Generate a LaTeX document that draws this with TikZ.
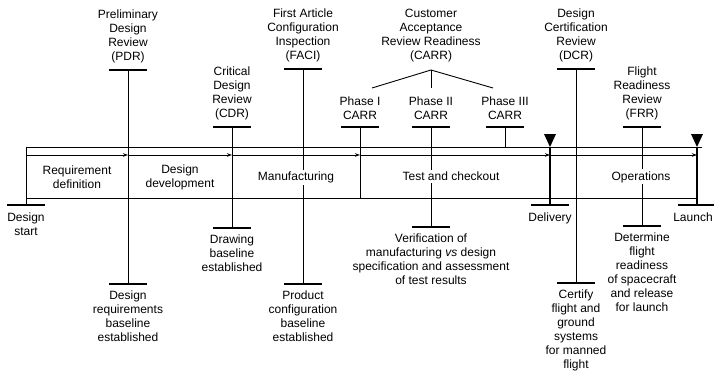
\documentclass[tikz,border=0pt]{standalone}
\usepackage{fontspec}
\setmainfont{Liberation Sans}
\usetikzlibrary{arrows.meta,positioning}

\def\crossbar#1{\draw[bar] ([xshift=-19pt]#1) -- ([xshift=19pt]#1);}
\tikzset{every node/.style={font=\fontsize{12}{14}\selectfont, align=center, inner sep=0pt},
    stem/.style={line width=0.9pt},
    bar/.style={line width=1.4pt},
    phase/.style={fill=white, inner sep=2pt},
    flow/.style={line width=0.9pt, -{Stealth[length=5pt, width=3.5pt]}}}

\begin{document}
\begin{tikzpicture}[x=1pt, y=-1pt]
    \useasboundingbox (0,0) rectangle (714,372);

    % phase boundaries on the bar
    \coordinate (start)  at (26,147);
    \coordinate (pdr)    at (128,147);
    \coordinate (cdr)    at (232,147);
    \coordinate (carr1)  at (360,147);
    \coordinate (carr3)  at (505,147);
    \coordinate (deliv)  at (550,147);
    \coordinate (launch) at (697,147);

    % ends of the review lines
    \coordinate (start-b)  at (26,205);
    \coordinate (pdr-t)    at (128,70);
    \coordinate (pdr-b)    at (128,284);
    \coordinate (cdr-t)    at (232,127);
    \coordinate (cdr-b)    at (232,228);
    \coordinate (faci-t)   at (303,69);
    \coordinate (faci-b)   at (303,284);
    \coordinate (carr1-t)  at (360,127);
    \coordinate (carr1-b)  at (360,198);
    \coordinate (carr-top) at (431,70);
    \coordinate (carr-l)   at (372,88);
    \coordinate (carr-r)   at (493,88);
    \coordinate (carr2-t)  at (431,127);
    \coordinate (carr2-b)  at (431,227);
    \coordinate (carr3-t)  at (505,127);
    \coordinate (deliv-b)  at (550,205);
    \coordinate (dcr-t)    at (576,69);
    \coordinate (dcr-b)    at (576,283);
    \coordinate (frr-t)    at (642,127);
    \coordinate (frr-b)    at (642,226);
    \coordinate (launch-b) at (697,205);

    % the bar
    \draw[stem] (start) -- ([xshift=5pt]launch);
    \draw[stem] ([yshift=-51pt]start) -- ([yshift=-51pt]launch);
    \draw[flow] ([yshift=-8pt]start) -- ([yshift=-8pt]pdr);
    \draw[flow] ([yshift=-8pt]pdr) -- ([yshift=-8pt]cdr);
    \draw[flow] ([yshift=-8pt]cdr) -- ([yshift=-8pt]carr1);
    \draw[flow] ([yshift=-8pt]carr1) -- ([yshift=-8pt]deliv);
    \draw[flow] ([yshift=-8pt]deliv) -- ([yshift=-8pt]launch);

    % review lines
    \draw[stem] (start) -- (start-b);
    \draw[stem] (pdr-t) -- (pdr-b);
    \draw[stem] (cdr-t) -- (cdr-b);
    \draw[stem] (faci-t) -- (faci-b);
    \draw[stem] (carr1-t) -- (carr1-b);
    \draw[stem] (carr2-t) -- (carr2-b);
    \draw[stem] (carr3-t) -- (carr3);
    \draw[stem] (dcr-t) -- (dcr-b);
    \draw[stem] (frr-t) -- (frr-b);
    \draw[bar] (deliv) -- (deliv-b);
    \draw[bar] (launch) -- (launch-b);
    \draw[stem] (carr-l) -- (carr-top) -- (carr-r);
    \draw[stem] (carr-top) -- (carr-top |- carr-l);

    \crossbar{start-b} \crossbar{pdr-t} \crossbar{pdr-b}
    \crossbar{cdr-t} \crossbar{cdr-b} \crossbar{faci-t} \crossbar{faci-b}
    \crossbar{carr1-t} \crossbar{carr2-t} \crossbar{carr2-b} \crossbar{carr3-t}
    \crossbar{deliv-b} \crossbar{dcr-t} \crossbar{dcr-b}
    \crossbar{frr-t} \crossbar{frr-b} \crossbar{launch-b}

    \fill ([xshift=-6pt, yshift=13pt]deliv) -- ([xshift=6pt, yshift=13pt]deliv) -- (deliv) -- cycle;
    \fill ([xshift=-6pt, yshift=13pt]launch) -- ([xshift=6pt, yshift=13pt]launch) -- (launch) -- cycle;

    % phases
    \node[phase] (reqdef) at (77,177) {Requirement\\definition};
    \node[phase] (desdev) at (180,177.5) {Design\\development};
    \node[phase, anchor=base] (manuf) at (296,180.5) {Manufacturing};
    \node[phase, anchor=base] (test) at (451,180.5) {Test and checkout};
    \node[phase, anchor=base] (ops) at (641,180) {Operations};

    % reviews
    \node[above=7pt of pdr-t] (pdr-l) {Preliminary\\Design\\Review\\(PDR)};
    \node[above=7pt of cdr-t] (cdr-l) {Critical\\Design\\Review\\(CDR)};
    \node[above=7pt of faci-t] (faci-l) {First Article\\Configuration\\Inspection\\(FACI)};
    \node[above=8pt of carr-top] (carr-l) {Customer\\Acceptance\\Review Readiness\\(CARR)};
    \node[above=7pt of carr1-t] (carr1-l) {Phase I\\CARR};
    \node[above=7pt of carr2-t] (carr2-l) {Phase II\\CARR};
    \node[above=7pt of carr3-t] (carr3-l) {Phase III\\CARR};
    \node[above=7pt of dcr-t] (dcr-l) {Design\\Certification\\Review\\(DCR)};
    \node[above=7pt of frr-t] (frr-l) {Flight\\Readiness\\Review\\(FRR)};

    % results
    \node[below=8pt of start-b] (start-n) {Design\\start};
    \node[below=7pt of pdr-b] (pdr-n) {Design\\requirements\\baseline\\established};
    \node[below=7pt of cdr-b] (cdr-n) {Drawing\\baseline\\established};
    \node[below=7pt of faci-b] (faci-n) {Product\\configuration\\baseline\\established};
    \node[below=7pt of carr2-b] (carr2-n) {Verification of\\manufacturing \textit{vs} design\\specification and assessment\\of test results};
    \node[below=8pt of deliv-b] (deliv-n) {Delivery};
    \node[below=7pt of dcr-b] (dcr-n) {Certify\\flight and\\ground\\systems\\for manned\\flight};
    \node[below=7pt of frr-b] (frr-n) {Determine\\flight\\readiness\\of spacecraft\\and release\\for launch};
    \node[below=8pt of launch-b, xshift=-4pt] (launch-n) {Launch};
\end{tikzpicture}
\end{document}
